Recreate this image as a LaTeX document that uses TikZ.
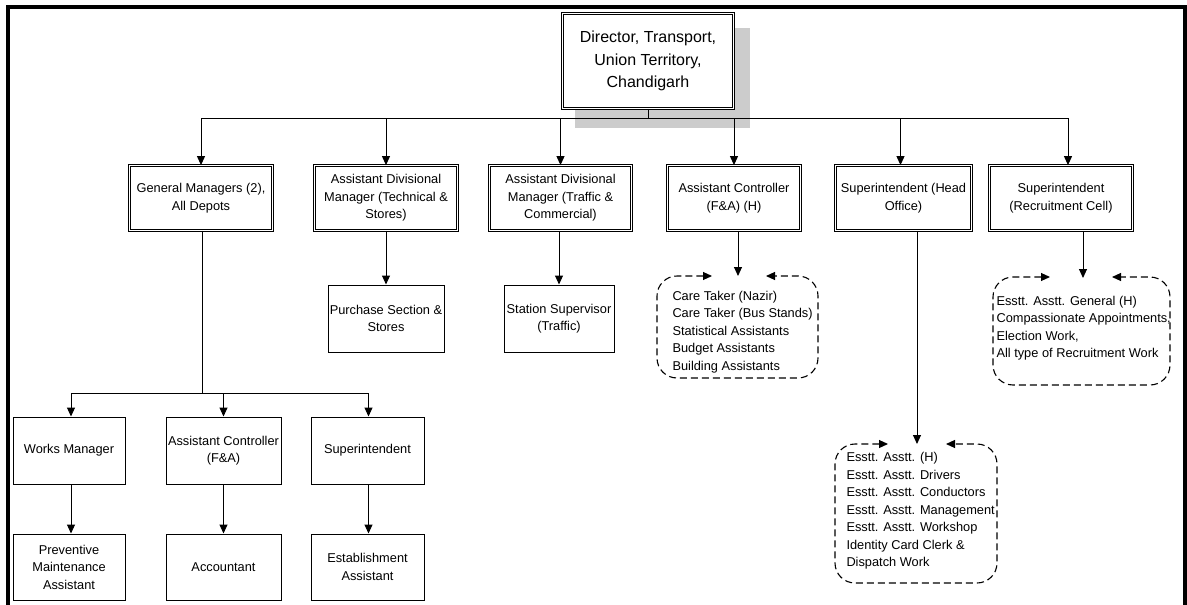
\documentclass[tikz,border=0pt]{standalone}
\usepackage{fontspec}
\setmainfont{Liberation Sans}
\usetikzlibrary{arrows.meta}

\begin{document}
\begin{tikzpicture}[x=1pt,y=-1pt,line width=1pt,
  >={Triangle[length=9pt,width=8pt]},
  every node/.style={inner sep=1pt,align=center,font=\fontsize{12.8}{17.5}\selectfont},
  post/.style={draw,double,double distance=1.6pt,line width=0.8pt,fill=white,minimum height=65pt},
  unit/.style={draw,line width=1pt,fill=white,minimum height=67pt},
  stafftext/.style={anchor=west,align=left,inner sep=0pt},
  staffline/.style={<->,line width=1.1pt,dash pattern=on 7pt off 4pt,rounded corners=20pt}]
\useasboundingbox (0,0) rectangle (1187,605);
% frame
\draw [line width=4pt] (8,605) -- (8,7) -- (1185,7) -- (1185,605);
% director with shadow
\fill [black!20] (575,28) rectangle (750,128);
\node [post,minimum width=171pt,minimum height=95pt,font=\fontsize{16}{22.5}\selectfont] (dir) at (648,61) {Director, Transport,\\Union Territory,\\Chandigarh};
% second level
\node [post,minimum width=143pt] (gm) at (201,198) {General Managers (2),\\All Depots};
\node [post,minimum width=143pt] (admtech) at (386,198) {Assistant Divisional\\Manager (Technical \&\\Stores)};
\node [post,minimum width=142pt] (admtraf) at (560.5,198) {Assistant Divisional\\Manager (Traffic \&\\Commercial)};
\node [post,minimum width=133pt] (acfa) at (734,198) {Assistant Controller\\(F\&A) (H)};
\node [post,minimum width=136pt] (supho) at (903.5,198) {Superintendent (Head\\Office)};
\node [post,minimum width=143pt] (suprec) at (1061,198) {Superintendent\\(Recruitment Cell)};
\coordinate (bus) at (648,118);
\draw (dir.south) -- (bus);
\draw (gm.north |- bus) -- ([xshift=7pt]suprec.north |- bus);
\draw [->] (gm.north |- bus) -- (gm.north);
\draw [->] (admtech.north |- bus) -- (admtech.north);
\draw [->] (admtraf.north |- bus) -- (admtraf.north);
\draw [->] (acfa.north |- bus) -- (acfa.north);
\draw [->] ([xshift=-3pt]supho.north |- bus) -- ([xshift=-3pt]supho.north);
\draw [->] ([xshift=7pt]suprec.north |- bus) -- ([xshift=7pt]suprec.north);
% sections under the ADMs
\node [unit,minimum width=116pt] (purch) at (386,318.5) {Purchase Section \&\\Stores};
\node [unit,minimum width=110pt] (stat) at (559,318.5) {Station Supervisor\\(Traffic)};
\draw [->] (admtech) -- (purch);
\draw [->] (admtraf.south -| stat) -- (stat);
% depots
\node [unit,minimum width=112pt] (wm) at (69,450.5) {Works Manager};
\node [unit,minimum width=115pt] (acdep) at (223.5,450.5) {Assistant Controller\\(F\&A)};
\node [unit,minimum width=113pt] (supdep) at (367.5,450.5) {Superintendent};
\node [unit,minimum width=112pt,minimum height=66pt] (pma) at (69,567) {Preventive\\Maintenance\\Assistant};
\node [unit,minimum width=115pt,minimum height=66pt] (acct) at (223.5,567) {Accountant};
\node [unit,minimum width=113pt,minimum height=66pt] (estab) at (367.5,567) {Establishment\\Assistant};
\coordinate (gmbus) at (202,393);
\draw (gm.south -| gmbus) -- (gmbus);
\draw ([xshift=2pt]wm.north |- gmbus) -- ([xshift=1pt]supdep.north |- gmbus);
\draw [->] ([xshift=2pt]wm.north |- gmbus) -- ([xshift=2pt]wm.north);
\draw [->] (acdep.north |- gmbus) -- (acdep.north);
\draw [->] ([xshift=1pt]supdep.north |- gmbus) -- ([xshift=1pt]supdep.north);
\draw [->] ([xshift=2pt]wm.south) -- ([xshift=2pt]pma.north);
\draw [->] (acdep) -- (acct);
\draw [->] ([xshift=1pt]supdep.south) -- ([xshift=1pt]estab.north);
% staff under assistant controller
\node [stafftext] (acstaff) at (672,332) {Care Taker (Nazir)\\Care Taker (Bus Stands)\\Statistical Assistants\\Budget Assistants\\Building Assistants};
\coordinate (acin) at (738,276);
\coordinate (acnw) at (657,276);
\coordinate (acse) at (818,378);
\draw [->] (acfa.south -| acin) -- (acin);
\draw [staffline] (712,276) -- (acnw) -- (acnw |- acse) -- (acse) -- (acse |- acnw) -- (766,276);
% staff under head office
\node [stafftext] (hostaff) at (846,511) {Esstt. Asstt. (H)\\Esstt. Asstt. Drivers\\Esstt. Asstt. Conductors\\Esstt. Asstt. Management\\Esstt. Asstt. Workshop\\Identity Card Clerk \&\\Dispatch Work};
\coordinate (hoin) at (917,444);
\coordinate (honw) at (835,444);
\coordinate (hose) at (997,583);
\draw [->] (supho.south -| hoin) -- (hoin);
\draw [staffline] (888,444) -- (honw) -- (honw |- hose) -- (hose) -- (hose |- honw) -- (946,444);
% staff under recruitment cell
\node [stafftext] (recstaff) at (996,328) {Esstt. Asstt. General (H)\\Compassionate Appointments,\\Election Work,\\All type of Recruitment Work};
\coordinate (recin) at (1083,278);
\coordinate (recnw) at (993,277);
\coordinate (recse) at (1170,385);
\draw [->] (suprec.south -| recin) -- (recin);
\draw [staffline] (1050,277) -- (recnw) -- (recnw |- recse) -- (recse) -- (recse |- recnw) -- (1112,277);
\end{tikzpicture}
\end{document}
